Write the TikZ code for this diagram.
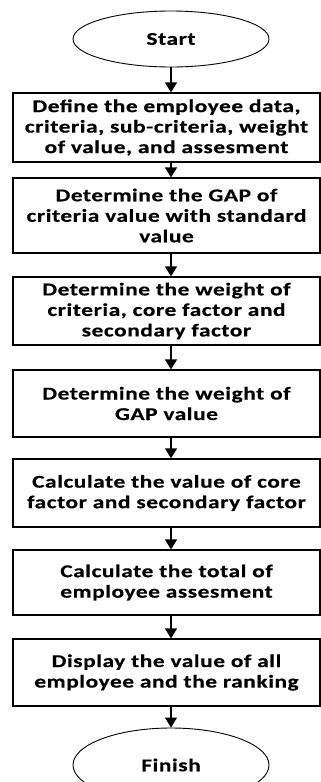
\documentclass[tikz,border=0pt]{standalone}
\usepackage{fontspec}
\setmainfont{Carlito}[FakeStretch=1.3, LetterSpace=3, FakeBold=0.4]
\usetikzlibrary{arrows.meta,shapes.geometric}
\tikzset{
  box/.style={draw, line width=1.2pt, rectangle, minimum width=307pt, inner sep=0pt, align=center, font=\fontsize{18}{20.5}\selectfont\bfseries},
  term/.style={draw, line width=0.9pt, ellipse, minimum width=196pt, inner sep=0pt, font=\fontsize{18}{20}\selectfont\bfseries},
  flow/.style={line width=1.2pt, -{Triangle[length=10pt,width=12pt]}}
}
\begin{document}
\begin{tikzpicture}[x=1pt,y=-1pt]
\useasboundingbox (0,0) rectangle (321,782);
\clip (0,0) rectangle (321,782);
\fill[white] (0,0) rectangle (321,782);
\node[term, minimum height=56pt] (start) at (171,39) {Start};
\node[box, minimum height=69pt] (b1) at (166.5,127.5) {Define the employee data,\\criteria, sub-criteria, weight\\of value, and assesment};
\node[box, minimum height=75pt] (b2) at (166.5,215.5) {Determine the GAP of\\criteria value with standard\\value};
\node[box, minimum height=68pt] (b3) at (166.5,311) {Determine the weight of\\criteria, core factor and\\secondary factor};
\node[box, minimum height=67pt] (b4) at (166.5,403.5) {Determine the weight of\\GAP value};
\node[box, minimum height=68pt] (b5) at (166.5,493) {Calculate the value of core\\factor and secondary factor};
\node[box, minimum height=65pt] (b6) at (166.5,582.5) {Calculate the total of\\employee assesment};
\node[box, minimum height=67pt] (b7) at (166.5,672.5) {Display the value of all\\employee and the ranking};
\node[term, minimum height=74pt] (finish) at (171,765) {Finish};
\draw[flow] (start.south) -- (start.south |- b1.north);
\draw[flow] (b1.south -| start.south) -- (start.south |- b2.north);
\draw[flow] (b2.south -| start.south) -- (start.south |- b3.north);
\draw[flow] (b3.south -| start.south) -- (start.south |- b4.north);
\draw[flow] (b4.south -| start.south) -- (start.south |- b5.north);
\draw[flow] (b5.south -| start.south) -- (start.south |- b6.north);
\draw[flow] (b6.south -| start.south) -- (start.south |- b7.north);
\draw[flow] (b7.south -| start.south) -- (finish.north);
\end{tikzpicture}
\end{document}
